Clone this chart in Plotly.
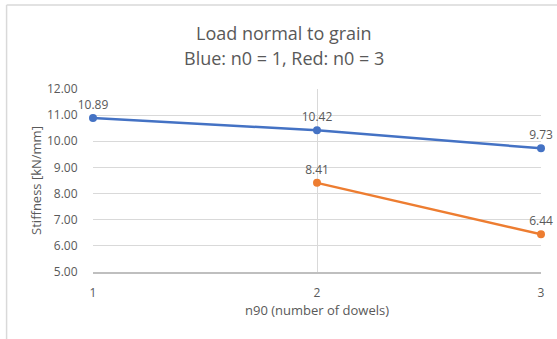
import plotly.graph_objects as go

x_blue = [1, 2, 3]
y_blue = [10.89, 10.42, 9.73]
x_red = [2, 3]
y_red = [8.41, 6.44]
y_ticks = [5, 6, 7, 8, 9, 10, 11, 12]
x_ticks = [1, 2, 3]
title_lines = ["Load normal to grain", "Blue: n0 = 1, Red: n0 = 3"]

W, H = 557, 339
L, R, T, B = 93, 13, 89, 67
pw, ph = W - L - R, H - T - B

FONT = "Open Sans"
GRAY = "#595959"


def px_x(p):
    return (p - L) / pw


def px_y(p):
    return (H - B - p) / ph


fig = go.Figure()
fig.add_trace(go.Scatter(
    x=x_blue, y=y_blue, mode="lines+markers+text",
    line=dict(color="#4472C4", width=2.5),
    marker=dict(color="#4472C4", size=8),
    text=[f"{v:.2f}" for v in y_blue], textposition="top center",
    textfont=dict(family=FONT, size=12, color=GRAY), cliponaxis=False,
))
fig.add_trace(go.Scatter(
    x=x_red, y=y_red, mode="lines+markers+text",
    line=dict(color="#ED7D31", width=2.5),
    marker=dict(color="#ED7D31", size=8),
    text=[f"{v:.2f}" for v in y_red], textposition="top center",
    textfont=dict(family=FONT, size=12, color=GRAY), cliponaxis=False,
))

# chart-area frame (top and left edges only, as in the reference)
fig.add_shape(type="line", xref="paper", yref="paper",
              x0=px_x(6), x1=px_x(W + 5), y0=px_y(5), y1=px_y(5),
              line=dict(color="#D9D9D9", width=1.5))
fig.add_shape(type="line", xref="paper", yref="paper",
              x0=px_x(6), x1=px_x(6), y0=px_y(5), y1=px_y(H + 5),
              line=dict(color="#D9D9D9", width=1.5))

# two-line title
for i, (line, yc) in enumerate(zip(title_lines, [33, 58])):
    fig.add_annotation(text=line, xref="paper", yref="paper",
                       x=px_x(285), y=px_y(yc), xanchor="center", yanchor="middle",
                       showarrow=False, font=dict(family=FONT, size=18, color=GRAY))

fig.update_layout(
    width=W, height=H,
    margin=dict(l=L, r=R, t=T, b=B),
    paper_bgcolor="white", plot_bgcolor="white",
    showlegend=False,
    font=dict(family=FONT, color=GRAY),
    xaxis=dict(range=[1, 3], tickvals=x_ticks, ticktext=[str(v) for v in x_ticks],
               showgrid=True, gridcolor="#D9D9D9", gridwidth=1,
               showline=True, linecolor="#BFBFBF", linewidth=1.5,
               zeroline=False, ticks="outside", ticklen=9,
               tickcolor="rgba(0,0,0,0)",
               tickfont=dict(family=FONT, size=12, color=GRAY),
               title=dict(text="n90 (number of dowels)", standoff=6,
                          font=dict(family=FONT, size=13, color=GRAY))),
    yaxis=dict(range=[5, 12], tickvals=y_ticks,
               ticktext=[f"{v:.2f}" for v in y_ticks],
               showgrid=True, gridcolor="#D9D9D9", gridwidth=1,
               showline=False, zeroline=False, ticks="outside", ticklen=12,
               tickcolor="rgba(0,0,0,0)",
               tickfont=dict(family=FONT, size=12, color=GRAY),
               title=dict(text="Stiffness [kN/mm]", standoff=2,
                          font=dict(family=FONT, size=13, color=GRAY))),
)

fig.write_html("out.html")
